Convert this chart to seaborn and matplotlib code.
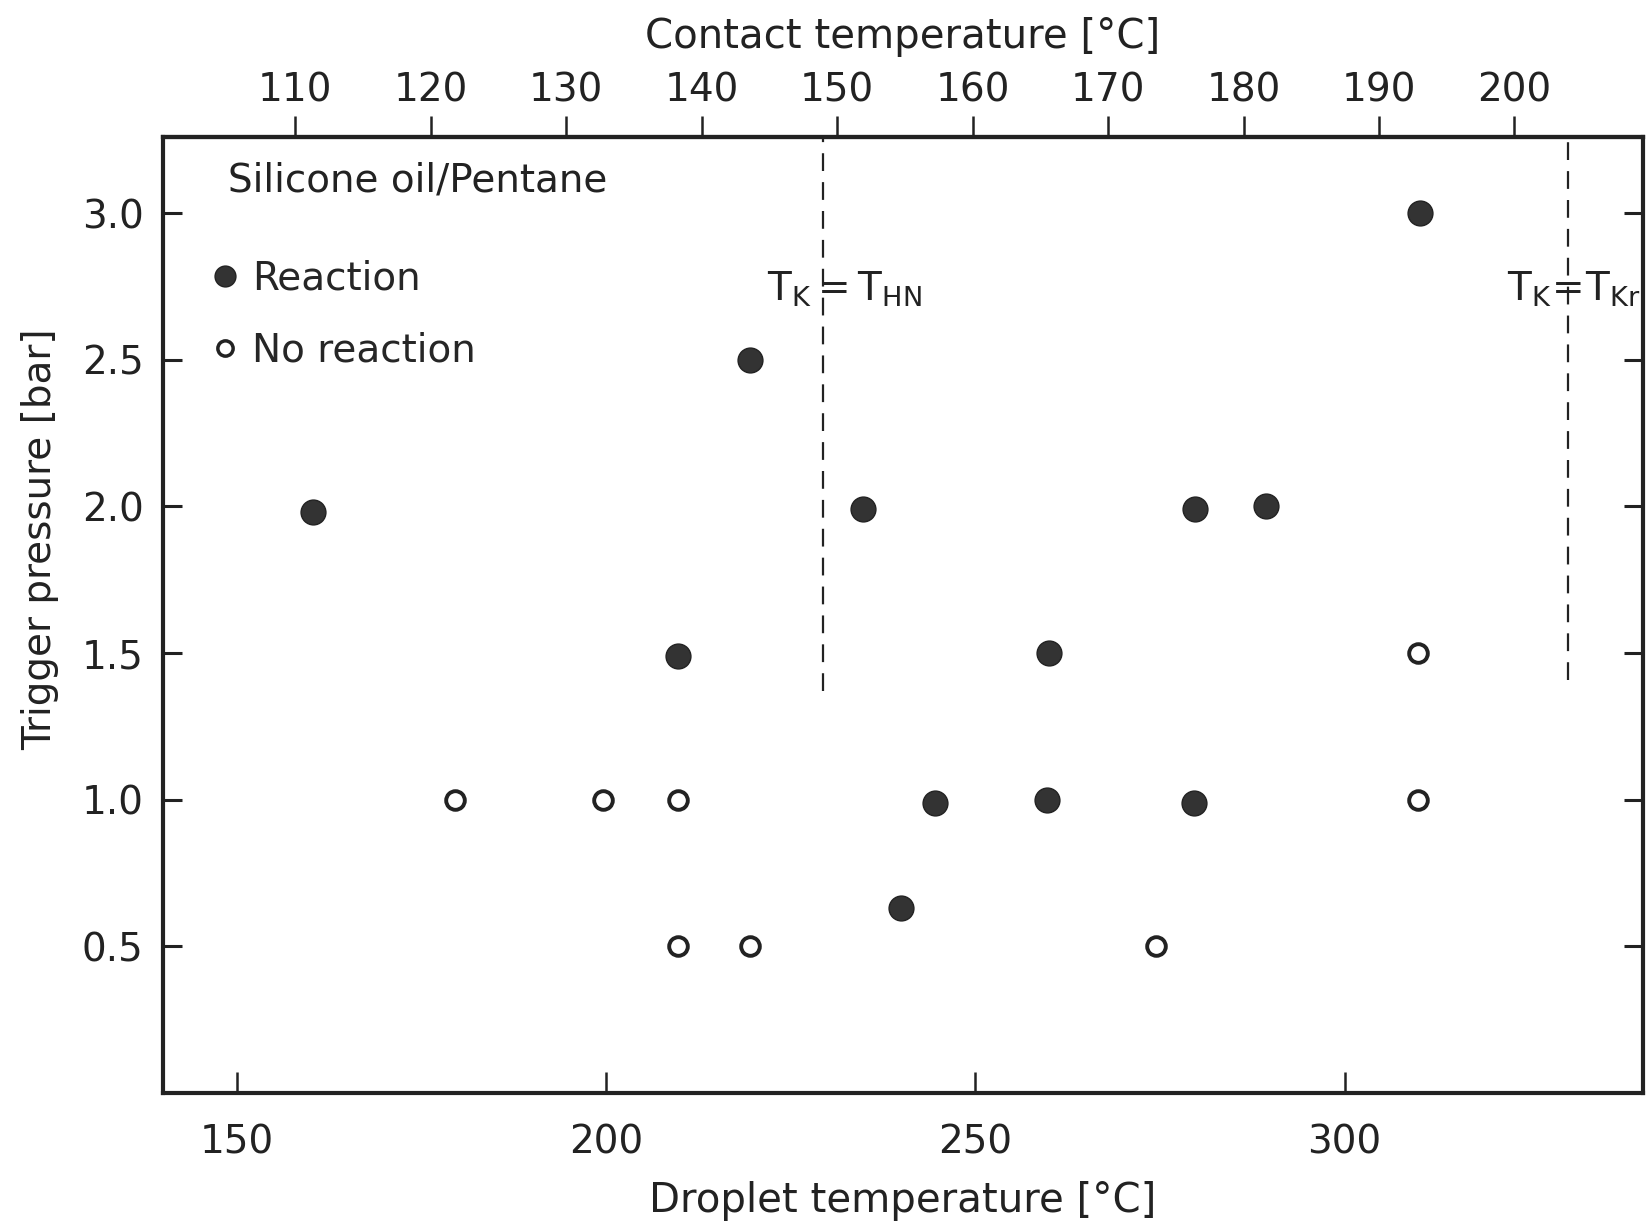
import numpy as np
import pandas as pd
import matplotlib
matplotlib.use("Agg")
import matplotlib.pyplot as plt
from matplotlib.lines import Line2D
import seaborn as sns

# ---- data ----
react_T = [160.3, 219.5, 234.8, 209.7, 260.0, 244.6, 259.7, 279.6, 239.9, 279.7, 289.4, 310.2]
react_P = [1.98, 2.50, 1.99, 1.49, 1.50, 0.99, 1.00, 0.99, 0.63, 1.99, 2.00, 3.00]
noreact_T = [179.6, 199.6, 209.7, 209.7, 219.5, 274.5, 309.9, 309.9]
noreact_P = [1.00, 1.00, 1.00, 0.50, 0.50, 0.50, 1.50, 1.00]

bottom_ticks = [150, 200, 250, 300]
left_ticks = [0.5, 1.0, 1.5, 2.0, 2.5, 3.0]
top_ticks = [110, 120, 130, 140, 150, 160, 170, 180, 190, 200]

c_ref, d_ref, slope = 110.0, 157.9, 1.8344

def d2c(d):
    return c_ref + (np.asarray(d) - d_ref) / slope

def c2d(c):
    return d_ref + (np.asarray(c) - c_ref) * slope

line_T = [229.3, 330.3]
line_ymin = [1.37, 1.41]
line_labels = [r"$\mathregular{T_K = T_{HN}}$", r"$\mathregular{T_K\!=\!T_{Kr}}$"]
label_T = [221.8, 322.0]
label_P = [2.74, 2.74]

df_r = pd.DataFrame({"T": react_T, "P": react_P})
df_n = pd.DataFrame({"T": noreact_T, "P": noreact_P})

sns.set_theme(style="white")
plt.rcParams['font.family'] = ['DejaVu Sans']
plt.rcParams['mathtext.default'] = 'regular'

W, H = 1648, 1226
fig = plt.figure(figsize=(W / 100, H / 100), dpi=100)
L, R, T, B = 163, 1643, 137, 1093
ax = fig.add_axes([L / W, 1 - B / H, (R - L) / W, (B - T) / H])

sns.scatterplot(data=df_r, x="T", y="P", ax=ax, s=320, color="#333333",
                edgecolor="#222222", linewidth=1.0, zorder=3)
sns.scatterplot(data=df_n, x="T", y="P", ax=ax, s=180, facecolor="white",
                edgecolor="#222222", linewidth=2.8, zorder=3)

ax.set_xlim(140, 340.4)
ax.set_ylim(0, 3.26)

for xv, ym in zip(line_T, line_ymin):
    ax.plot([xv, xv], [ym, 3.26], ls=(0, (8, 5)), color="#222222", lw=1.6, zorder=2)
for txt, xv, yv in zip(line_labels, label_T, label_P):
    ax.text(xv, yv, txt, fontsize=28, va="center", ha="left", color="#222222")

for s in ax.spines.values():
    s.set_linewidth(3)
    s.set_color("#222222")

ax.set_xticks(bottom_ticks)
ax.set_xticklabels([str(t) for t in bottom_ticks])
ax.set_yticks(left_ticks)
ax.set_yticklabels([f"{t:.1f}" for t in left_ticks])
ax.tick_params(axis="x", direction="in", length=15, width=1.8, labelsize=28,
               pad=22, colors="#222222", bottom=True, top=False)
ax.tick_params(axis="y", direction="in", length=14, width=2.2, labelsize=28,
               pad=14, colors="#222222", left=True, right=True)
ax.set_xlabel("Droplet temperature [°C]", fontsize=29, labelpad=14, color="#222222")
ax.set_ylabel("Trigger pressure [bar]", fontsize=28, color="#222222")
ax.yaxis.set_label_coords(-0.07, 0.579)

sec = ax.secondary_xaxis("top", functions=(d2c, c2d))
sec.set_xticks(top_ticks)
sec.set_xticklabels([str(t) for t in top_ticks])
sec.tick_params(axis="x", direction="out", length=15, width=1.8, labelsize=28,
                pad=5, colors="#222222")
sec.spines["top"].set_linewidth(3)
sec.set_xlabel("Contact temperature [°C]", fontsize=29, labelpad=17, color="#222222")

ax.text(0.044, 0.954, "Silicone oil/Pentane", transform=ax.transAxes,
        fontsize=28, va="center", ha="left", color="#222222")

handles = [
    Line2D([], [], marker="o", ls="", markersize=15, markerfacecolor="#333333",
           markeredgecolor="#222222", label="Reaction"),
    Line2D([], [], marker="o", ls="", markersize=11, markerfacecolor="white",
           markeredgecolor="#222222", markeredgewidth=2.5, label="No reaction"),
]
ax.legend(handles=handles, loc="upper left", bbox_to_anchor=(0.018, 0.888),
          frameon=False, fontsize=28, handletextpad=0.2, labelspacing=0.87,
          handlelength=1.0, borderaxespad=0)

fig.savefig("out.png", dpi=100)
